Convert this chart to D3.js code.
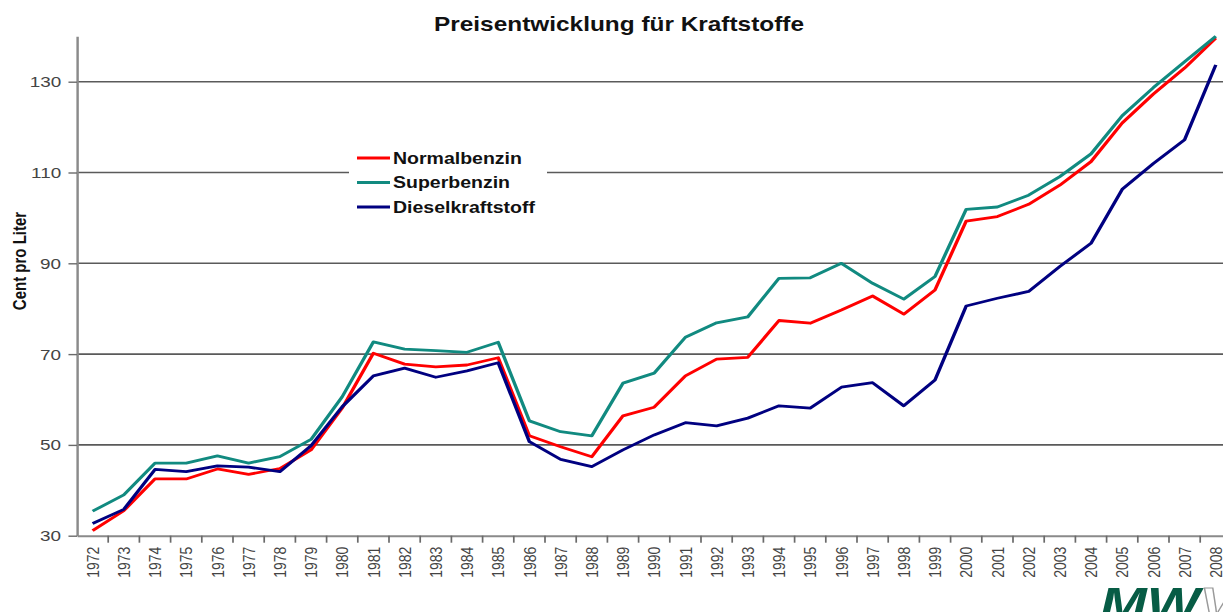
<!DOCTYPE html>
<html>
<head>
<meta charset="UTF-8">
<title>Preisentwicklung für Kraftstoffe</title>
<script src="https://d3js.org/d3.v7.min.js"></script>
<style>
  body { margin: 0; background: #fff; }
  svg { display: block; font-family: "Liberation Sans", Arial, sans-serif; }
</style>
</head>
<body>
<svg id="chart" width="1223" height="612"></svg>
<script>
// Jahre (Kategorien)
const years = ["1972","1973","1974","1975","1976","1977","1978","1979","1980","1981",
  "1982","1983","1984","1985","1986","1987","1988","1989","1990","1991",
  "1992","1993","1994","1995","1996","1997","1998","1999","2000","2001",
  "2002","2003","2004","2005","2006","2007","2008"];

// Cent pro Liter
const normalbenzin = [31.1, 35.5, 42.5, 42.5, 44.7, 43.5, 44.8, 48.9, 58.1, 70.2,
  67.8, 67.2, 67.6, 69.2, 52.0, 49.6, 47.4, 56.4, 58.3, 65.2,
  68.9, 69.3, 77.4, 76.8, 79.7, 82.8, 78.8, 84.1, 99.3, 100.3,
  103.0, 107.2, 112.4, 120.9, 127.3, 133.0, 139.6];
const superbenzin = [35.4, 39.0, 46.0, 46.0, 47.6, 46.0, 47.4, 51.2, 60.6, 72.7,
  71.1, 70.75, 70.4, 72.6, 55.3, 52.9, 52.0, 63.6, 65.8, 73.7,
  76.9, 78.2, 86.7, 86.8, 90.0, 85.6, 82.1, 87.1, 101.9, 102.4,
  105.0, 109.1, 114.1, 122.5, 128.7, 134.4, 140.0];
const dieselkraftstoff = [32.7, 35.8, 44.6, 44.1, 45.4, 45.1, 44.1, 49.8, 58.4, 65.2,
  66.9, 64.9, 66.3, 68.1, 50.7, 46.8, 45.2, 48.9, 52.2, 54.9,
  54.2, 55.9, 58.6, 58.1, 62.7, 63.7, 58.6, 64.3, 80.6, 82.3,
  83.8, 89.3, 94.4, 106.3, 112.0, 117.2, 133.7];

const yTicks = [30, 50, 70, 90, 110, 130];
const seriesNames = ["Normalbenzin", "Superbenzin", "Dieselkraftstoff"];
const seriesColors = ["#ff0000", "#118a80", "#000080"];

// the original picture is stretched sideways, so draw into a squeezed space
const S = 1.22;
const svg = d3.select("#chart");
const g = svg.append("g").attr("transform", "scale(" + S + ",1)");

const x = d3.scaleBand().domain(years).range([77 / S, (77 + 37 * 31.2) / S]);
const y = d3.scaleLinear().domain([30, 140]).range([535.7, 36.3]);
const cx = d => x(d) + x.bandwidth() / 2;

// Gitternetzlinien
g.append("g").selectAll("line").data(yTicks.slice(1)).enter().append("line")
  .attr("x1", x.range()[0]).attr("x2", x.range()[1])
  .attr("y1", d => y(d)).attr("y2", d => y(d))
  .attr("stroke", "#5a5a5a").attr("stroke-width", 1.6);

// y-Achse
const ya = g.append("g").attr("transform", "translate(" + x.range()[0] + ",0)")
  .call(d3.axisLeft(y).tickValues(yTicks).tickSize(7).tickSizeOuter(0).tickPadding(6));
ya.select(".domain").attr("stroke", "#8a8a8a").attr("stroke-width", 2);
ya.selectAll(".tick line").attr("stroke", "#6a6a6a").attr("stroke-width", 1.4);
ya.selectAll("text").attr("font-size", 15.5).attr("fill", "#444")
  .attr("font-family", "Liberation Sans, Arial, sans-serif");

// x-Achse
const xa = g.append("g").attr("transform", "translate(0," + y(30) + ")")
  .call(d3.axisBottom(x).tickSize(0).tickSizeOuter(0));
xa.select(".domain").attr("stroke", "#8a8a8a").attr("stroke-width", 2);
xa.selectAll("text")
  .attr("font-size", 14).attr("fill", "#444")
  .attr("font-family", "Liberation Sans, Arial, sans-serif")
  .attr("transform", "rotate(-90)")
  .attr("x", -11).attr("y", 0).attr("dy", "0.36em")
  .style("text-anchor", "end");
xa.append("g").selectAll("line").data(years).enter().append("line")
  .attr("x1", d => x(d) + x.bandwidth()).attr("x2", d => x(d) + x.bandwidth())
  .attr("y1", 0).attr("y2", 7)
  .attr("stroke", "#6a6a6a").attr("stroke-width", 1.4);

// Linien
const line = d3.line().x((d, i) => cx(years[i])).y(d => y(d));
[normalbenzin, superbenzin, dieselkraftstoff].forEach((vals, k) => {
  g.append("path").datum(vals)
    .attr("d", line)
    .attr("fill", "none")
    .attr("stroke", seriesColors[k])
    .attr("stroke-width", 2.8)
    .attr("stroke-linejoin", "round");
});

// Titel
g.append("text")
  .attr("x", 619 / S).attr("y", 31)
  .attr("text-anchor", "middle")
  .attr("font-size", 20).attr("font-weight", "bold").attr("fill", "#111")
  .text("Preisentwicklung für Kraftstoffe");

// Achsentitel
g.append("text")
  .attr("transform", "translate(" + (26 / S) + ",261) rotate(-90)")
  .attr("text-anchor", "middle")
  .attr("font-size", 15).attr("font-weight", "bold").attr("fill", "#111")
  .text("Cent pro Liter");

// Legende
const lg = g.append("g");
lg.append("rect")
  .attr("x", 349 / S).attr("y", 142).attr("width", 198 / S).attr("height", 80)
  .attr("fill", "#fff");
seriesNames.forEach((name, k) => {
  const ly = 158 + k * 24.5;
  lg.append("line")
    .attr("x1", 357 / S).attr("x2", 390 / S).attr("y1", ly).attr("y2", ly)
    .attr("stroke", seriesColors[k]).attr("stroke-width", 2.8);
  lg.append("text")
    .attr("x", 393 / S).attr("y", ly).attr("dy", "0.36em")
    .attr("font-size", 16).attr("font-weight", "bold").attr("fill", "#111")
    .text(name);
});

// Logo unten rechts
const logo = g.append("text")
  .attr("x", 1100 / S).attr("y", 620)
  .attr("font-size", 46).attr("font-weight", "bold").attr("font-style", "italic");
logo.append("tspan").attr("fill", "#075c45").text("MW");
logo.append("tspan").attr("fill", "none").attr("stroke", "#9a9a9a").attr("stroke-width", 1.2).text("V");
</script>
</body>
</html>
